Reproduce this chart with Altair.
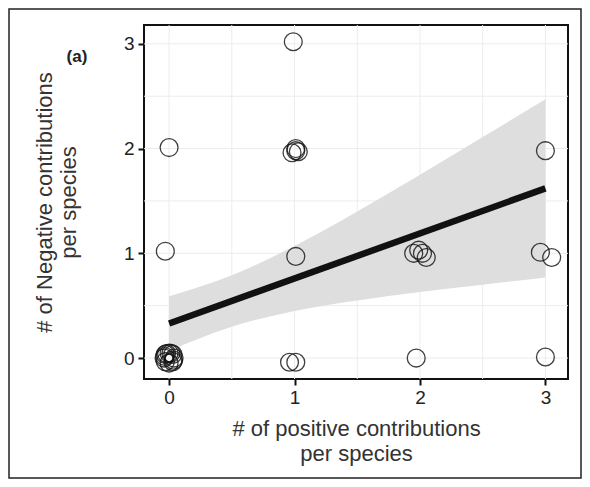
import altair as alt
import pandas as pd

# scatter points (jittered positions)
pos_x = [0.99, 0.00, -0.03,
         0.98, 1.01, 1.03, 1.01,
         1.01, 0.96, 1.01, 1.97,
         1.95, 1.99, 2.02, 2.05,
         3.00, 2.96, 3.05, 3.00,
         0.04, 0.03, 0.00, -0.03, -0.04, -0.03, 0.00, 0.03, 0.015, -0.02, 0.035, -0.035]
neg_y = [3.02, 2.01, 1.02,
         1.96, 1.98, 1.97, 2.00,
         0.97, -0.04, -0.04, 0.00,
         1.00, 1.03, 1.00, 0.96,
         1.98, 1.01, 0.96, 0.01,
         0.00, 0.035, 0.048, 0.035, 0.00, -0.035, -0.048, -0.035, 0.045, 0.042, -0.02, 0.015]

# fitted line
fit_x = [0, 3]
fit_y = [0.33, 1.62]

# confidence band
band_x = [0, 0.5, 1, 1.5, 2, 2.5, 3]
band_lo = [0.07, 0.30, 0.45, 0.55, 0.63, 0.70, 0.77]
band_hi = [0.59, 0.79, 1.07, 1.40, 1.75, 2.11, 2.47]

grid_vals = [0, 0.5, 1, 1.5, 2, 2.5, 3]
tick_vals = [0, 1, 2, 3]

FONT = "Liberation Sans"
xs = alt.Scale(domain=[-0.2, 3.18], nice=False, zero=False)
ys = alt.Scale(domain=[-0.2, 3.18], nice=False, zero=False)

xaxis = alt.Axis(
    values=tick_vals, title=["# of positive contributions", "per species"],
    grid=False, domain=False, tickSize=6, tickWidth=2, tickColor="#111",
    labelFontSize=19, labelColor="#222", labelPadding=3, labelFont=FONT,
    titleFont=FONT, titleFontSize=22, titleFontWeight="normal", titleColor="#333",
    titlePadding=11, titleLineHeight=25)
yaxis = alt.Axis(
    values=tick_vals, title=["# of Negative contributions", "per species"],
    grid=False, domain=False, tickSize=6, tickWidth=2, tickColor="#111",
    labelFontSize=19, labelColor="#222", labelPadding=4, labelFont=FONT,
    titleFont=FONT, titleFontSize=22, titleFontWeight="normal", titleColor="#333",
    titlePadding=43, titleLineHeight=24)

pts = pd.DataFrame({"x": pos_x, "y": neg_y})
fit = pd.DataFrame({"x": fit_x, "y": fit_y})
band = pd.DataFrame({"x": band_x, "lo": band_lo, "hi": band_hi})
grid = pd.DataFrame({"v": grid_vals})
one = pd.DataFrame({"k": [0]})

frame = alt.Chart(one).mark_rect(fill=None, stroke="#222", strokeWidth=1.5).encode(
    x=alt.value(-135), x2=alt.value(437), y=alt.value(-16), y2=alt.value(453))

vgrid = alt.Chart(grid).mark_rule(color="#ececec", strokeWidth=1).encode(
    x=alt.X("v:Q", scale=xs, axis=xaxis))
hgrid = alt.Chart(grid).mark_rule(color="#ececec", strokeWidth=1).encode(
    y=alt.Y("v:Q", scale=ys, axis=yaxis))

area = alt.Chart(band).mark_area(color="#dedede", opacity=1, interpolate="monotone").encode(
    x=alt.X("x:Q", scale=xs, axis=xaxis),
    y=alt.Y("lo:Q", scale=ys, axis=yaxis),
    y2="hi:Q")

line = alt.Chart(fit).mark_line(color="#111", strokeWidth=6.5).encode(
    x=alt.X("x:Q", scale=xs, axis=xaxis),
    y=alt.Y("y:Q", scale=ys, axis=yaxis))

points = alt.Chart(pts).mark_point(shape="circle", filled=False, size=320,
                                   stroke="#111", strokeWidth=1.3, opacity=0.8).encode(
    x=alt.X("x:Q", scale=xs, axis=xaxis),
    y=alt.Y("y:Q", scale=ys, axis=yaxis))

label = alt.Chart(one).mark_text(text="(a)", font=FONT, fontSize=17, fontWeight="bold",
                                 color="#222", align="center", baseline="middle").encode(
    x=alt.value(-67), y=alt.value(32))

chart = alt.layer(frame, vgrid, hgrid, area, line, points, label).properties(
    width=424, height=354,
    padding={"left": 136, "top": 17, "right": 14, "bottom": 100},
    autosize=alt.AutoSizeParams(type="none"),
    background="white",
).configure_view(stroke="#111", strokeWidth=2)

chart.save("out.html", embed_options={"renderer": "svg", "actions": False})
